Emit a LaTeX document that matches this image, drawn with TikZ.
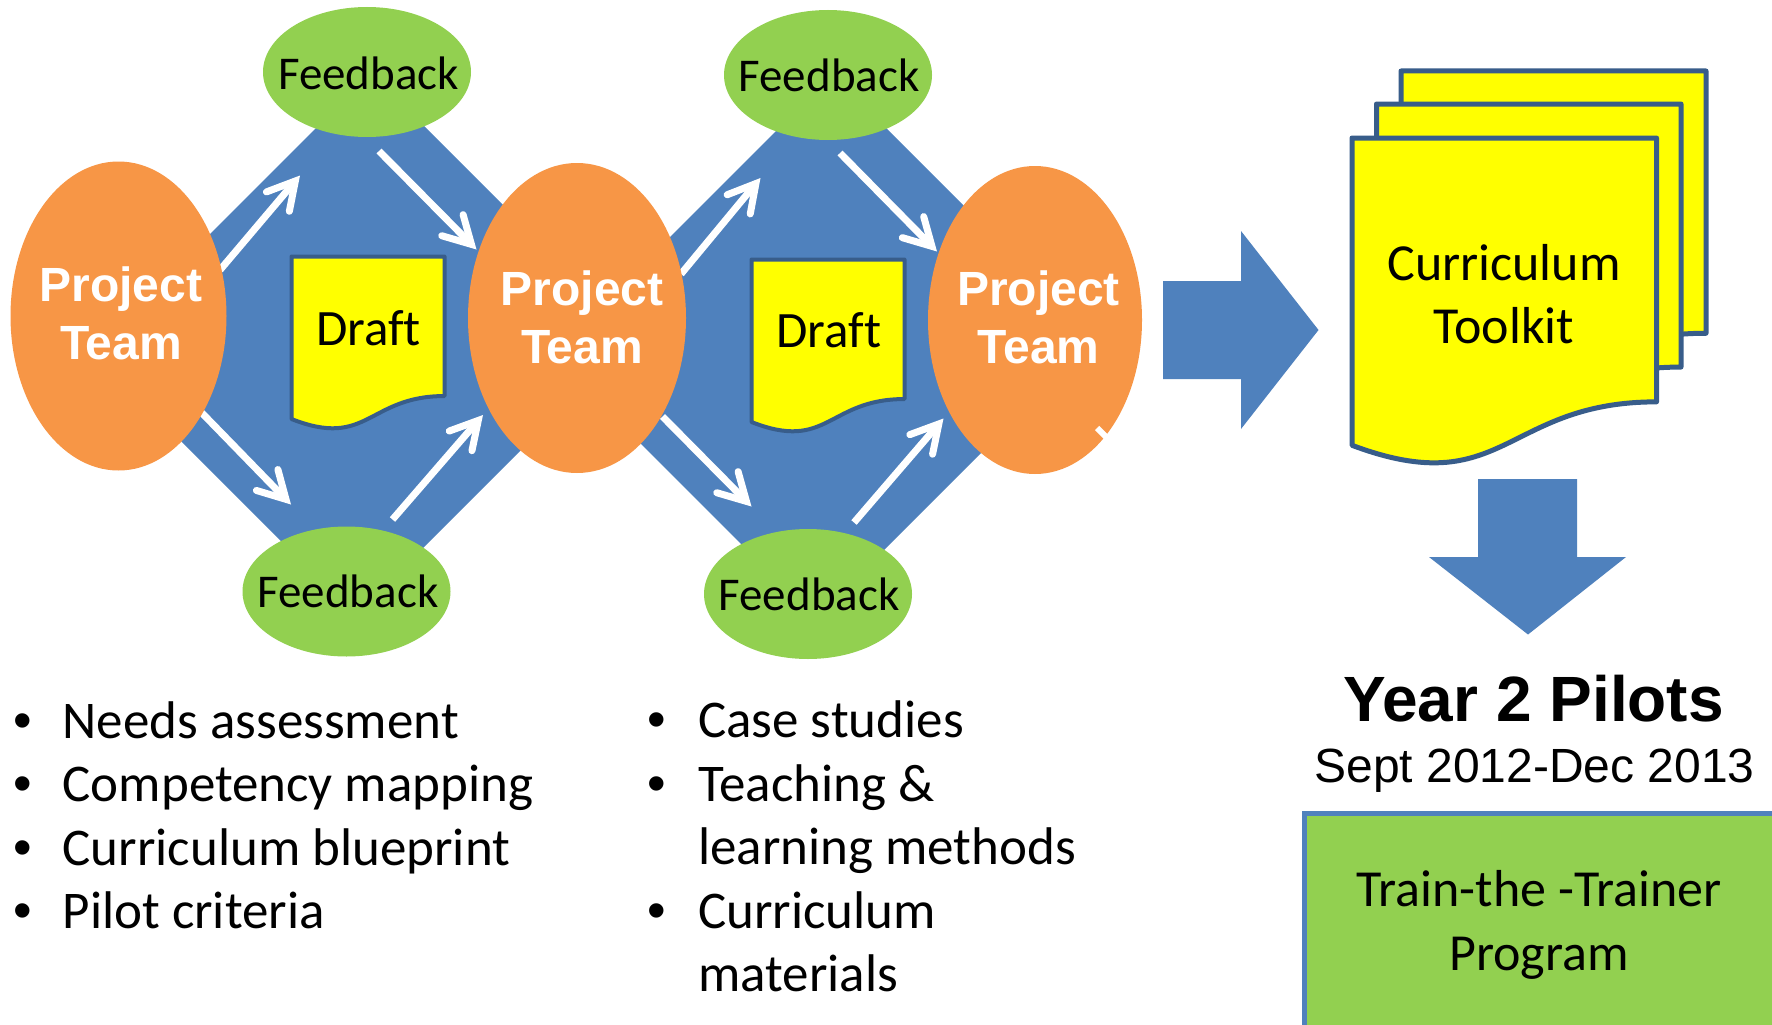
\documentclass[tikz,border=0pt]{standalone}
\usepackage{fontspec}
\setmainfont[Ligatures=CommonOff]{Carlito}
\newfontfamily\arialfont{Liberation Sans}
\usetikzlibrary{shapes.geometric,arrows.meta}
\definecolor{pblue}{RGB}{79,129,189}
\definecolor{porange}{RGB}{247,150,70}
\definecolor{pgreen}{RGB}{146,208,80}
\definecolor{pyellow}{RGB}{255,255,0}
\definecolor{pborder}{RGB}{56,93,138}
\begin{document}
\begin{tikzpicture}[x=1pt,y=-1pt,
  team/.style={ellipse, fill=porange, minimum width=216pt, minimum height=309pt, inner sep=0pt},
  teamtext/.style={text=white, align=center, inner sep=0pt, font=\arialfont\bfseries\fontsize{48}{58}\selectfont},
  fb/.style={ellipse, fill=pgreen, minimum width=208pt, minimum height=130pt, inner sep=0pt},
  fbtext/.style={inner sep=0pt, font=\fontsize{47}{56}\selectfont},
  flow/.style={white, line width=7pt, -{Straight Barb[length=27pt,width=30pt,line cap=round,line join=miter]}},
  docshape/.style={fill=pyellow, draw=pborder, line join=round},
  doctext/.style={anchor=base, inner sep=0pt, font=\fontsize{51}{60}\selectfont},
  bigtext/.style={anchor=base, inner sep=0pt, font=\fontsize{52}{64}\selectfont},
  bullettext/.style={anchor=base west, inner sep=0pt, font=\fontsize{53}{64}\selectfont},
  bulletdot/.style={anchor=base, inner sep=0pt, font=\arialfont\fontsize{53}{64}\selectfont},
  blockarrow/.style={fill=pblue}
]
\useasboundingbox (0,0) rectangle (1772,1025);
\fill[white] (0,0) rectangle (1772,1025);
\clip (0,0) rectangle (1772,1025);

% blue diamonds
\fill[pblue] (371,73) -- (634.5,336.5) -- (355.5,615.5) -- (92,352) -- cycle;
\fill[pblue] (832.5,74.5) -- (1096,338) -- (815.5,618.5) -- (552,355) -- cycle;

% white flow arrows (coordinates)
\coordinate (a1s) at (220,270);   \coordinate (a1e) at (300,175.5);
\coordinate (a2s) at (379,151);   \coordinate (a2e) at (476.5,249.5);
\coordinate (a3s) at (201,412);   \coordinate (a3e) at (291,504.5);
\coordinate (a4s) at (392.5,519.5); \coordinate (a4e) at (483,415);
\coordinate (b1s) at (681,274);   \coordinate (b1e) at (760.5,178);
\coordinate (b2s) at (840,153);   \coordinate (b2e) at (937,251.5);
\coordinate (b3s) at (662.5,416.5); \coordinate (b3e) at (751.5,506.5);
\coordinate (b4s) at (854,522.5); \coordinate (b4e) at (943.5,418.5);
\foreach \s/\e in {a1s/a1e,a2s/a2e,a3s/a3e,a4s/a4e,b1s/b1e,b2s/b2e,b3s/b3e,b4s/b4e}
  \draw[flow] (\s) -- (\e);

% project team ellipses
\node[team] (pt1) at (118.5,316) {};
\node[team, minimum width=218pt, minimum height=310pt] (pt2) at (577,318) {};
\node[team, minimum width=214pt, minimum height=308pt] (pt3) at (1035,320) {};
\node[teamtext] (pt1t) at (121,313.2) {Project\\Team};
\node[teamtext] (pt2t) at (582,317.6) {Project\\Team};
\node[teamtext] (pt3t) at (1038.6,317.8) {Project\\Team};
\draw[white, line width=6pt] (1097,428) -- (1108,439);

% feedback ellipses
\node[fb] (fbt1) at (367,72) {};
\node[fb] (fbb1) at (346.5,591.5) {};
\node[fb] (fbt2) at (828,75) {};
\node[fb] (fbb2) at (808,594) {};
\node[fbtext, anchor=base] (fbt1t) at (368.5,89.8) {Feedback};
\node[fbtext, anchor=base] (fbb1t) at (348,607) {Feedback};
\node[fbtext, anchor=base] (fbt2t) at (829,92) {Feedback};
\node[fbtext, anchor=base] (fbb2t) at (809,610) {Feedback};

% draft documents
\draw[docshape, line width=4pt] (291.5,256.5) -- (444.5,256.5) -- (444.5,256.5+0.802*174)
  .. controls (291.5+0.5*153,256.5+0.802*174) and (291.5+0.5*153,256.5+1.1075*174) .. (291.5,256.5+0.934*174) -- cycle;
\draw[docshape, line width=4pt] (751.5,259.5) -- (904.5,259.5) -- (904.5,259.5+0.802*174)
  .. controls (751.5+0.5*153,259.5+0.802*174) and (751.5+0.5*153,259.5+1.1075*174) .. (751.5,259.5+0.934*174) -- cycle;
\node[doctext] (d1t) at (368.5,345) {Draft};
\node[doctext] (d2t) at (829,347) {Draft};

% big right arrow
\fill[blockarrow] (1163,281) -- (1241,281) -- (1241,231) -- (1318.5,330) -- (1241,429) -- (1241,379) -- (1163,379) -- cycle;

% curriculum toolkit (stack of documents)
\draw[docshape, line width=5pt] (1401,71) -- (1706,71) -- (1706,71+0.802*327)
  .. controls (1401+0.5*305,71+0.802*327) and (1401+0.5*305,71+1.1075*327) .. (1401,71+0.934*327) -- cycle;
\draw[docshape, line width=5pt] (1376.5,104) -- (1681,104) -- (1681,104+0.802*328)
  .. controls (1376.5+0.5*304.5,104+0.802*328) and (1376.5+0.5*304.5,104+1.1075*328) .. (1376.5,104+0.934*328) -- cycle;
\draw[docshape, line width=5pt] (1352,138) -- (1656.5,138) -- (1656.5,138+0.802*329)
  .. controls (1352+0.5*304.5,138+0.802*329) and (1352+0.5*304.5,138+1.1075*329) .. (1352,138+0.934*329) -- cycle;
\node[bigtext] (ct1) at (1504,280) {Curriculum};
\node[bigtext] (ct2) at (1504,343) {Toolkit};

% down arrow
\fill[blockarrow] (1478,479) -- (1577,479) -- (1577,557) -- (1626,557) -- (1528,634.5) -- (1429,557) -- (1478,557) -- cycle;

% year 2 pilots
\node[anchor=base, inner sep=0pt, font=\arialfont\bfseries\fontsize{64}{72}\selectfont] (y2p) at (1533.5,721) {Year 2 Pilots};
\node[anchor=base, inner sep=0pt, font=\arialfont\fontsize{48}{56}\selectfont] (dates) at (1534.5,782) {Sept 2012-Dec 2013};

% train the trainer box
\draw[fill=pgreen, draw=pblue, line width=5pt] (1304,813.5) rectangle (1800,1060);
\node[bigtext] (ttt1) at (1539,906) {Train-the -Trainer};
\node[bigtext] (ttt2) at (1539,970) {Program};

% bullet lists
\foreach \y/\t [count=\i] in {738/Needs assessment,801.5/Competency mapping,865/Curriculum blueprint,928.5/Pilot criteria}{
  \node[bulletdot] (lb\i) at (23,\y) {•};
  \node[bullettext] (lt\i) at (62.5,\y) {\t};
}
\node[bulletdot] (rb1) at (657,737.5) {•};
\node[bullettext] (rt1) at (698,737.5) {Case studies};
\node[bulletdot] (rb2) at (657,801) {•};
\node[bullettext] (rt2) at (698,801) {Teaching \&};
\node[bullettext] (rt3) at (698,864.5) {learning methods};
\node[bulletdot] (rb3) at (657,928) {•};
\node[bullettext] (rt4) at (698,928) {Curriculum};
\node[bullettext] (rt5) at (698,991.5) {materials};
\end{tikzpicture}
\end{document}
